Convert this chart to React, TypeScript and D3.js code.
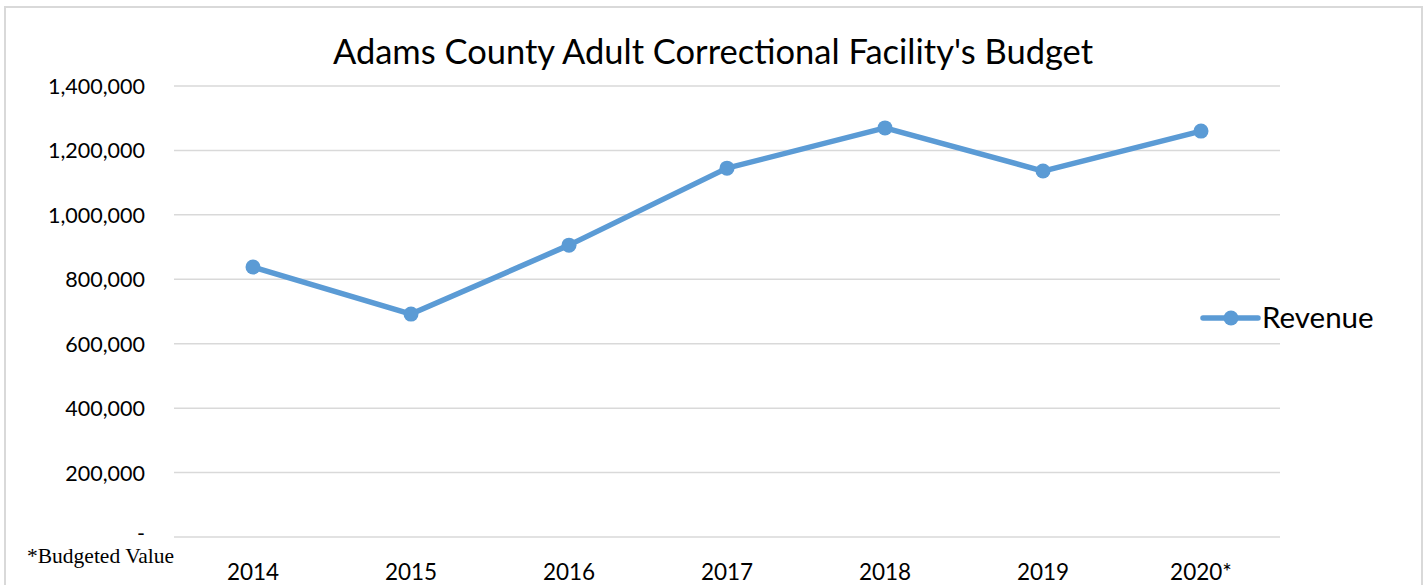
import { useRef, useEffect } from 'react';
import * as d3 from 'd3';

const years = ['2014', '2015', '2016', '2017', '2018', '2019', '2020*'];
const revenue = [838000, 692000, 906000, 1145000, 1270000, 1136000, 1260000];
const yTicks = [0, 200000, 400000, 600000, 800000, 1000000, 1200000, 1400000];

const App = () => {
  const svgRef = useRef<SVGSVGElement>(null);

  useEffect(() => {
    const svg = d3.select(svgRef.current);
    svg.selectAll('*').remove();

    const width = 1426;
    const height = 585;
    const font = 'Lato, "Open Sans", sans-serif';
    const left = 174, right = 1280, top = 86, bottom = 537;

    // chart frame
    svg.append('rect')
      .attr('x', 5).attr('y', 7)
      .attr('width', 1417).attr('height', 600)
      .attr('fill', '#fff')
      .attr('stroke', '#d9d9d9')
      .attr('stroke-width', 2);

    const x = d3.scaleBand()
      .domain(years)
      .range([left, right]);

    const y = d3.scaleLinear()
      .domain([0, 1400000])
      .range([bottom, top]);

    // gridlines
    svg.append('g')
      .selectAll('line')
      .data(yTicks)
      .enter()
      .append('line')
      .attr('x1', left).attr('x2', right)
      .attr('y1', d => y(d)).attr('y2', d => y(d))
      .attr('stroke', '#d9d9d9')
      .attr('stroke-width', 1.5);

    // y labels
    svg.append('g')
      .selectAll('text')
      .data(yTicks)
      .enter()
      .append('text')
      .attr('x', 145)
      .attr('y', d => y(d) + (d === 0 ? 4 : 8))
      .attr('text-anchor', 'end')
      .style('font-family', font)
      .style('font-size', '21.5px')
      .attr('fill', '#000')
      .text(d => d === 0 ? '-' : d3.format(',')(d));

    // x labels
    svg.append('g')
      .selectAll('text')
      .data(years)
      .enter()
      .append('text')
      .attr('x', d => x(d)! + x.bandwidth() / 2)
      .attr('y', 580)
      .attr('text-anchor', 'middle')
      .style('font-family', font)
      .style('font-size', '22.5px')
      .attr('fill', '#000')
      .text(d => d);

    const line = d3.line<number>()
      .x((_, i) => x(years[i])! + x.bandwidth() / 2)
      .y(d => y(d));

    svg.append('path')
      .datum(revenue)
      .attr('d', line)
      .attr('fill', 'none')
      .attr('stroke', '#5b9bd5')
      .attr('stroke-width', 5.5)
      .attr('stroke-linejoin', 'round')
      .attr('stroke-linecap', 'round');

    svg.append('g')
      .selectAll('circle')
      .data(revenue)
      .enter()
      .append('circle')
      .attr('cx', (_, i) => x(years[i])! + x.bandwidth() / 2)
      .attr('cy', d => y(d))
      .attr('r', 7.5)
      .attr('fill', '#5b9bd5');

    // legend
    const lg = svg.append('g').attr('transform', 'translate(1203,318)');
    lg.append('line')
      .attr('x1', 0).attr('x2', 55)
      .attr('stroke', '#5b9bd5')
      .attr('stroke-width', 5.5)
      .attr('stroke-linecap', 'round');
    lg.append('circle').attr('cx', 28).attr('r', 7.5).attr('fill', '#5b9bd5');
    lg.append('text')
      .attr('x', 59).attr('y', 10)
      .style('font-family', font)
      .style('font-size', '29.5px')
      .text('Revenue');

    // title
    svg.append('text')
      .attr('x', 713)
      .attr('y', 64)
      .attr('text-anchor', 'middle')
      .style('font-family', font)
      .style('font-size', '34.5px')
      .text("Adams County Adult Correctional Facility's Budget");

    // footnote
    svg.append('text')
      .attr('x', 27)
      .attr('y', 563)
      .style('font-family', '"Liberation Serif", "Times New Roman", serif')
      .style('font-size', '21.5px')
      .text('*Budgeted Value');

    svg.attr('width', width).attr('height', height);
  }, []);

  return (
    <svg ref={svgRef} width={1426} height={585}
      style={{ position: 'absolute', left: 0, top: 0, background: '#fff' }} />
  );
};

export default App;
